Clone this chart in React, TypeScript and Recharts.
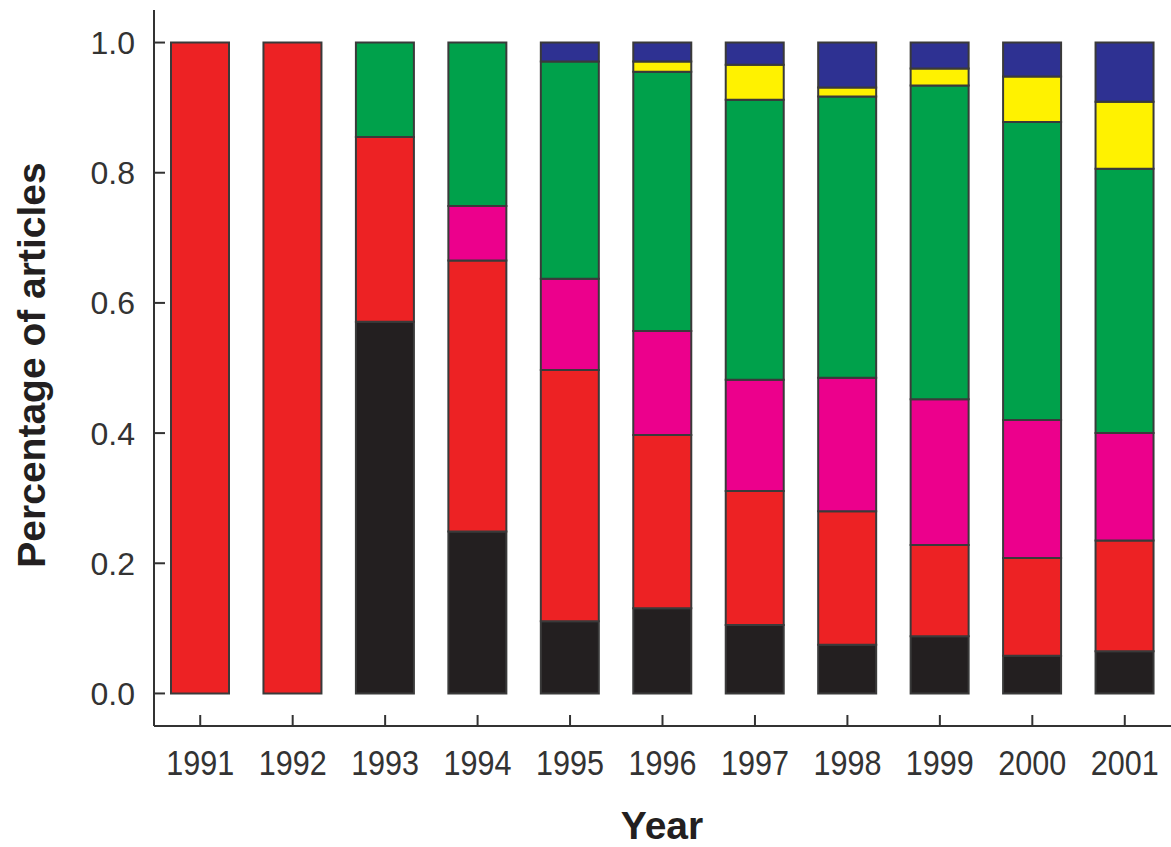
import { BarChart, Bar, XAxis, YAxis, Label } from "recharts";

const years = ["1991", "1992", "1993", "1994", "1995", "1996", "1997", "1998", "1999", "2000", "2001"];
// share of articles per year, stacked bottom -> top
const black = [0, 0, 0.571, 0.249, 0.111, 0.131, 0.105, 0.075, 0.088, 0.058, 0.065];
const red = [1, 1, 0.284, 0.416, 0.386, 0.266, 0.206, 0.205, 0.14, 0.15, 0.17];
const magenta = [0, 0, 0, 0.084, 0.14, 0.16, 0.171, 0.205, 0.224, 0.212, 0.165];
const green = [0, 0, 0.145, 0.251, 0.334, 0.398, 0.43, 0.432, 0.482, 0.458, 0.406];
const yellow = [0, 0, 0, 0, 0, 0.016, 0.054, 0.014, 0.026, 0.07, 0.103];
const blue = [0, 0, 0, 0, 0.029, 0.029, 0.034, 0.069, 0.04, 0.052, 0.091];
const yTicks = [0, 0.2, 0.4, 0.6, 0.8, 1.0];

const data = years.map((year, i) => ({
  year,
  black: black[i],
  red: red[i],
  magenta: magenta[i],
  green: green[i],
  yellow: yellow[i],
  blue: blue[i],
}));

const series = [
  { key: "black", color: "#231F20" },
  { key: "red", color: "#ED2224" },
  { key: "magenta", color: "#EC008C" },
  { key: "green", color: "#00A14B" },
  { key: "yellow", color: "#FFF200" },
  { key: "blue", color: "#2E3192" },
];

const font = "'Liberation Sans', Arial, sans-serif";

// ticks point inward, so draw the tick line with the label
const XTick = (props: any) => {
  const { x, y, payload } = props;
  return (
    <g>
      <line x1={x} x2={x} y1={y} y2={y - 11} stroke="#333" strokeWidth={2} />
      <text
        x={x}
        y={y + 49}
        textAnchor="middle"
        fontSize={35}
        textLength={68}
        lengthAdjust="spacingAndGlyphs"
        fill="#333"
        fontFamily={font}
      >
        {payload.value}
      </text>
    </g>
  );
};

const YTick = (props: any) => {
  const { x, y, payload } = props;
  return (
    <g>
      <line x1={x} x2={x + 11} y1={y} y2={y} stroke="#333" strokeWidth={2} />
      <text x={x - 19} y={y + 11.5} textAnchor="end" fontSize={32} fill="#333" fontFamily={font}>
        {payload.value.toFixed(1)}
      </text>
    </g>
  );
};

export default function App() {
  return (
    <div style={{ position: "absolute", left: 0, top: 0, width: 1171, height: 847, background: "#fff" }}>
      <BarChart width={1171} height={847} data={data} margin={{ top: 10, right: 0, left: 0, bottom: 0 }}>
        <XAxis
          dataKey="year"
          height={121}
          tickSize={0}
          tickMargin={0}
          tickLine={false}
          tick={<XTick />}
          axisLine={{ stroke: "#333", strokeWidth: 2 }}
          interval={0}
        >
          <Label
            content={() => (
              <text x={662} y={839} textAnchor="middle" fontSize={39} fontWeight="bold" fill="#231F20" fontFamily={font}>
                Year
              </text>
            )}
          />
        </XAxis>
        <YAxis
          type="number"
          width={154}
          domain={[-0.05, 1.05]}
          ticks={yTicks}
          allowDataOverflow
          tickSize={0}
          tickMargin={0}
          tickLine={false}
          tick={<YTick />}
          axisLine={{ stroke: "#333", strokeWidth: 2 }}
        >
          <Label
            content={() => (
              <text
                x={45}
                y={365}
                transform="rotate(-90 45 365)"
                textAnchor="middle"
                fontSize={39}
                fontWeight="bold"
                fill="#231F20"
                fontFamily={font}
              >
                Percentage of articles
              </text>
            )}
          />
        </YAxis>
        {series.map((s) => (
          <Bar
            key={s.key}
            dataKey={s.key}
            stackId="a"
            fill={s.color}
            stroke="#3a3a3a"
            strokeWidth={2}
            barSize={58}
            isAnimationActive={false}
          />
        ))}
      </BarChart>
    </div>
  );
}
